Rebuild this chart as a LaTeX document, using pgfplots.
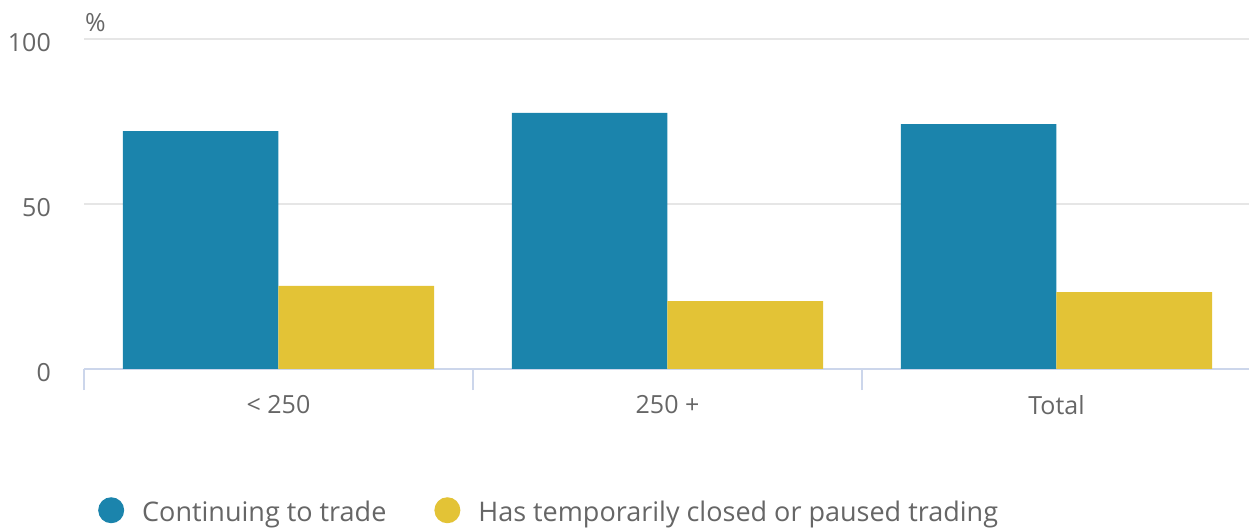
\documentclass[border=0pt]{standalone}
\usepackage{pgfplots}
\pgfplotsset{compat=1.18}
\usepackage{fontspec}
\setmainfont{Open Sans}
\definecolor{tradeblue}{HTML}{1B84AC}
\definecolor{pauseyellow}{HTML}{E3C336}
\definecolor{labelgray}{HTML}{666666}
\definecolor{gridgray}{HTML}{E6E6E6}
\definecolor{axisblue}{HTML}{CCD6EB}

\begin{document}
\begin{tikzpicture}
\begin{axis}[
  at={(0pt,0pt)}, anchor=south west,
  scale only axis,
  width=1167pt, height=330pt,
  xmin=-0.5, xmax=2.5, ymin=0, ymax=100,
  clip=false,
  axis lines*=left,
  y axis line style={draw=none},
  x axis line style={draw=axisblue, line width=2pt},
  ymajorgrids,
  grid style={draw=gridgray, line width=2pt},
  ytick={0,50,100},
  xtick={0,1,2},
  xticklabels={{< 250},{250 +},{Total}},
  major tick length=0pt,
  /pgf/number format/assume math mode=true,
  tick label style={font=\fontsize{25}{30}\selectfont, text=labelgray, inner sep=0pt},
  xticklabel style={anchor=north, yshift=-26pt},
  yticklabel style={anchor=east, xshift=-33pt, yshift=-4pt},
  extra x ticks={-0.5,0.5,1.5},
  extra x tick labels={},
  extra x tick style={major tick length=21pt, tick align=outside,
    tick style={draw=axisblue, line width=2pt}},
  legend columns=2,
  legend style={at={(axis description cs:0.012,-0.388)}, anchor=north west,
    draw=none, inner sep=0pt, nodes={inner sep=0pt},
    font=\fontsize{27}{32}\selectfont, text=labelgray,
    /tikz/every odd column/.append style={column sep=18pt},
    /tikz/every even column/.append style={column sep=48pt}},
  legend image code/.code={\fill[#1] (13pt,2pt) circle (13pt);},
]
\addplot[ybar, bar width=0.4, bar shift=-0.2, fill=tradeblue, draw=none]
  coordinates {(0,72.1) (1,77.6) (2,74.2)};
\addlegendentry{Continuing to trade}
\addplot[ybar, bar width=0.4, bar shift=0.2, fill=pauseyellow, draw=none]
  coordinates {(0,25.2) (1,20.6) (2,23.3)};
\addlegendentry{Has temporarily closed or paused trading}
\node[anchor=south west, inner sep=0pt, font=\fontsize{25}{30}\selectfont,
  text=labelgray, xshift=1pt, yshift=7pt] at (rel axis cs:0,1) {\%};
\end{axis}
\pgfresetboundingbox
\path (-84pt,-160pt) rectangle (1165pt,369pt);
\end{tikzpicture}
\end{document}
